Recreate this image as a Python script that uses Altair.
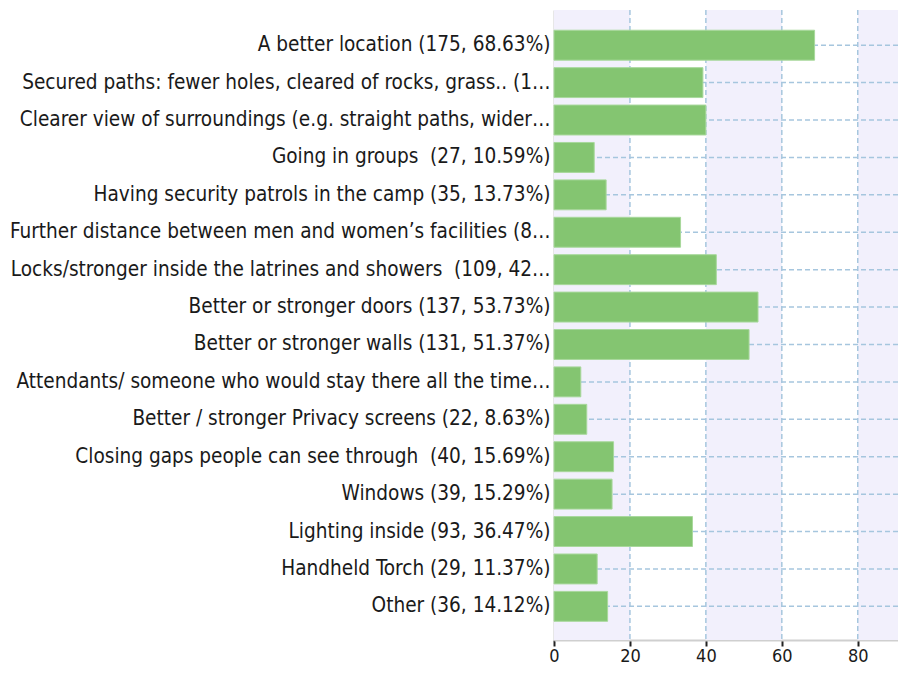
import altair as alt
import pandas as pd

labels = [
    "A better location (175, 68.63%)",
    "Secured paths: fewer holes, cleared of rocks, grass.. (1…",
    "Clearer view of surroundings (e.g. straight paths, wider…",
    "Going in groups \u00a0(27, 10.59%)",
    "Having security patrols in the camp (35, 13.73%)",
    "Further distance between men and women’s facilities (8…",
    "Locks/stronger inside the latrines and showers \u00a0(109, 42…",
    "Better or stronger doors (137, 53.73%)",
    "Better or stronger walls (131, 51.37%)",
    "Attendants/ someone who would stay there all the time…",
    "Better / stronger Privacy screens (22, 8.63%)",
    "Closing gaps people can see through \u00a0(40, 15.69%)",
    "Windows (39, 15.29%)",
    "Lighting inside (93, 36.47%)",
    "Handheld Torch (29, 11.37%)",
    "Other (36, 14.12%)",
]
percent = [68.63, 39.22, 40.0, 10.59, 13.73, 33.33, 42.75, 53.73,
           51.37, 7.06, 8.63, 15.69, 15.29, 36.47, 11.37, 14.12]
tick_values = [0, 20, 40, 60, 80]
band_start = [0, 40, 80]
band_end = [20, 60, 100]
x_max = 90.6

df = pd.DataFrame({"label": labels, "pct": percent})
bands = pd.DataFrame({"a": band_start, "b": band_end})
vgrid = pd.DataFrame({"v": tick_values[1:]})

FONT = "DejaVu Sans Condensed"
xscale = alt.Scale(domain=[0, x_max], nice=False, zero=True)
yscale = alt.Scale(paddingInner=0.2, paddingOuter=0.52, align=0.52)
grid_color = "#a6c6de"
dash = [5, 3]

x_axis = alt.Axis(
    values=tick_values,
    title=None,
    grid=False,
    domainColor="#cfcfcf",
    domainWidth=2,
    tickColor="#222222",
    tickWidth=2,
    tickSize=6,
    labelPadding=1,
    labelFlush=False,
    labelFont=FONT,
    labelFontSize=18,
    labelColor="#1a1a1a",
)
y_axis = alt.Axis(
    title=None,
    grid=False,
    ticks=False,
    domainColor="#cfcfcf",
    domainWidth=2,
    labelPadding=4,
    labelLimit=800,
    labelFont=FONT,
    labelFontSize=20.6,
    labelColor="#1a1a1a",
)

bg = alt.Chart(bands).mark_rect(color="#f2f0fc", clip=True).encode(
    x=alt.X("a:Q", scale=xscale, axis=x_axis),
    x2="b:Q",
)

vrules = alt.Chart(vgrid).mark_rule(color=grid_color, strokeDash=dash, strokeWidth=1.5).encode(
    x=alt.X("v:Q", scale=xscale, axis=x_axis)
)

hrules = alt.Chart(df).mark_rule(color=grid_color, strokeDash=dash, strokeWidth=1.5).encode(
    y=alt.Y("label:N", sort=None, scale=yscale, axis=y_axis)
)

bars = alt.Chart(df).mark_bar(color="#84c571", stroke="#a8d89c", strokeWidth=1).encode(
    x=alt.X("pct:Q", scale=xscale, axis=x_axis),
    y=alt.Y("label:N", sort=None, scale=yscale, axis=y_axis),
)

chart = (
    alt.layer(bg, vrules, hrules, bars)
    .properties(
        width=344,
        height=630,
        autosize=alt.AutoSizeParams(type="none"),
        padding={"left": 546, "top": 2, "right": 0, "bottom": 28},
    )
    .configure_view(stroke=None)
)

chart.save("out.html", embed_options={"renderer": "svg", "actions": False})
